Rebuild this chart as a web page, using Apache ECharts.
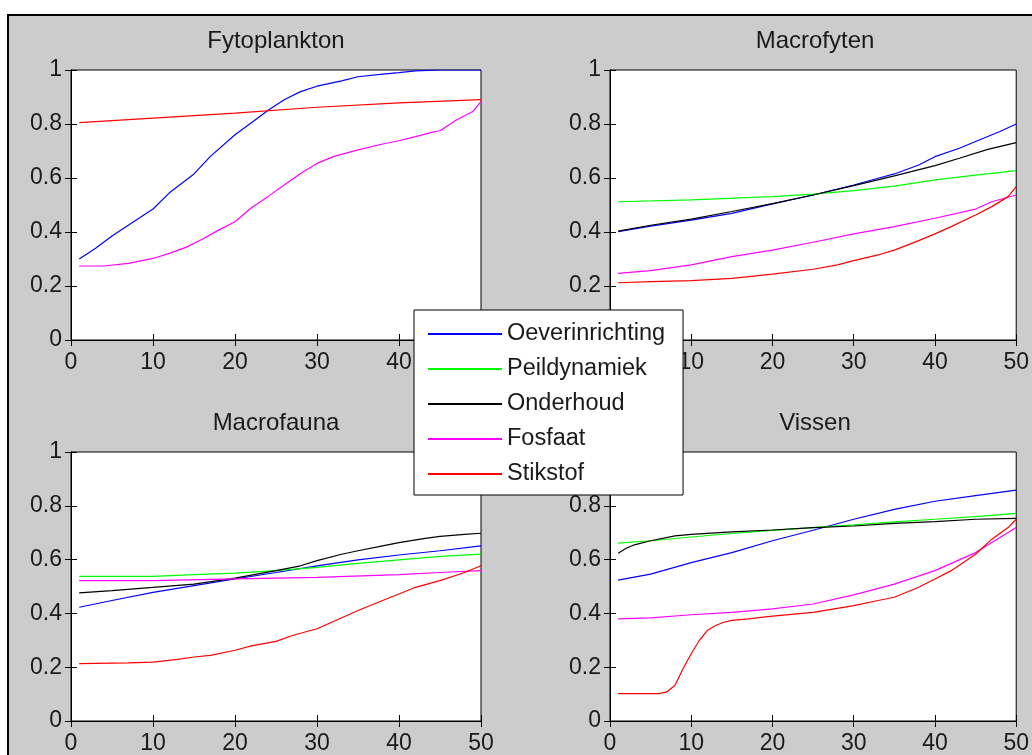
<!DOCTYPE html>
<html>
<head>
<meta charset="utf-8">
<script src="https://cdn.jsdelivr.net/npm/echarts@6/dist/echarts.min.js"></script>
<style>
  html, body { margin: 0; padding: 0; background: #fff; }
  #main { width: 1032px; height: 755px; }
</style>
</head>
<body>
<div id="main"></div>
<script>
// panel titles and legend names
const panelTitles = ['Fytoplankton', 'Macrofyten', 'Macrofauna', 'Vissen'];
const seriesNames = ['Oeverinrichting', 'Peildynamiek', 'Onderhoud', 'Fosfaat', 'Stikstof'];
const seriesColors = ['#0000ff', '#00ff00', '#000000', '#ff00ff', '#ff0000'];
const xTicks = [0, 10, 20, 30, 40, 50];
const yTicks = [0, 0.2, 0.4, 0.6, 0.8, 1];

// Fytoplankton ([x, y])
const fytoOever = [[1,0.30],[3,0.34],[5,0.385],[8,0.445],[10,0.485],[12,0.545],[15,0.615],[17,0.68],[20,0.76],[22,0.805],[24,0.85],[26,0.89],[28,0.92],[30,0.94],[33,0.96],[35,0.975],[38,0.985],[40,0.99],[42,0.997],[45,1],[50,1]];
const fytoFosfaat = [[1,0.274],[4,0.274],[7,0.284],[10,0.302],[12,0.321],[14,0.343],[16,0.373],[18,0.407],[20,0.438],[22,0.49],[24,0.531],[26,0.574],[28,0.617],[30,0.654],[32,0.679],[35,0.704],[38,0.726],[40,0.738],[42,0.753],[44,0.769],[45,0.775],[47,0.815],[49,0.846],[50,0.883]];
const fytoStikstof = [[1,0.805],[10,0.822],[20,0.840],[30,0.862],[40,0.878],[50,0.89]];

// Macrofyten
const mfytOever = [[1,0.401],[5,0.422],[10,0.444],[15,0.469],[20,0.504],[25,0.537],[30,0.574],[33,0.599],[35,0.615],[38,0.648],[40,0.679],[43,0.71],[45,0.735],[48,0.772],[50,0.8]];
const mfytPeil = [[1,0.512],[10,0.519],[20,0.531],[25,0.54],[30,0.553],[35,0.57],[40,0.593],[45,0.611],[50,0.627]];
const mfytOnderhoud = [[1,0.403],[5,0.425],[10,0.448],[15,0.476],[20,0.505],[25,0.537],[30,0.572],[35,0.608],[40,0.646],[43,0.673],[46.5,0.706],[50,0.731]];
const mfytFosfaat = [[1,0.247],[5,0.257],[10,0.278],[15,0.309],[20,0.333],[25,0.362],[30,0.393],[35,0.42],[40,0.451],[45,0.485],[47,0.512],[50,0.537]];
const mfytStikstof = [[1,0.212],[5,0.216],[10,0.22],[15,0.228],[20,0.244],[25,0.262],[28,0.278],[30,0.294],[33,0.315],[35,0.333],[38,0.368],[40,0.393],[42,0.42],[45,0.463],[47,0.494],[49,0.531],[50,0.568]];

// Macrofauna
const mfauOever = [[1,0.423],[5,0.448],[10,0.478],[15,0.503],[20,0.528],[25,0.552],[30,0.577],[35,0.599],[40,0.617],[45,0.633],[50,0.651]];
const mfauPeil = [[1,0.538],[10,0.538],[15,0.544],[20,0.55],[25,0.559],[30,0.571],[35,0.586],[40,0.599],[45,0.612],[50,0.62]];
const mfauOnderhoud = [[1,0.476],[5,0.485],[10,0.497],[15,0.509],[20,0.531],[25,0.559],[28,0.577],[30,0.596],[33,0.62],[35,0.633],[38,0.651],[40,0.663],[43,0.678],[45,0.686],[48,0.694],[50,0.698]];
const mfauFosfaat = [[1,0.522],[10,0.522],[20,0.528],[30,0.534],[40,0.544],[45,0.552],[50,0.559]];
const mfauStikstof = [[1,0.213],[7,0.216],[10,0.219],[13,0.229],[15,0.238],[17,0.244],[20,0.263],[22,0.279],[25,0.296],[27,0.318],[30,0.343],[32,0.37],[35,0.411],[38,0.448],[40,0.472],[42,0.497],[45,0.522],[48,0.552],[50,0.577]];

// Vissen
const vissOever = [[1,0.524],[5,0.546],[10,0.589],[15,0.626],[20,0.67],[25,0.709],[30,0.75],[35,0.787],[40,0.817],[45,0.838],[50,0.858]];
const vissPeil = [[1,0.661],[5,0.67],[10,0.684],[15,0.697],[20,0.709],[25,0.719],[30,0.729],[35,0.74],[40,0.75],[45,0.76],[50,0.772]];
const vissOnderhoud = [[1,0.624],[2,0.642],[3,0.655],[5,0.67],[8,0.688],[10,0.694],[15,0.703],[20,0.71],[25,0.719],[30,0.725],[35,0.735],[40,0.741],[45,0.75],[50,0.753]];
const vissFosfaat = [[1,0.38],[5,0.383],[10,0.395],[15,0.404],[20,0.417],[25,0.435],[30,0.469],[35,0.509],[40,0.559],[45,0.626],[50,0.719]];
const vissStikstof = [[1,0.102],[6,0.102],[7,0.108],[8,0.133],[9,0.195],[10,0.25],[11,0.3],[12,0.337],[13,0.355],[14,0.367],[15,0.374],[17,0.38],[20,0.39],[25,0.404],[30,0.429],[33,0.448],[35,0.46],[38,0.497],[40,0.528],[42,0.559],[45,0.62],[47,0.676],[49,0.719],[50,0.75]];

// per panel: one entry per legend name (null = not drawn)
const panelData = [
  [fytoOever, null, null, fytoFosfaat, fytoStikstof],
  [mfytOever, mfytPeil, mfytOnderhoud, mfytFosfaat, mfytStikstof],
  [mfauOever, mfauPeil, mfauOnderhoud, mfauFosfaat, mfauStikstof],
  [vissOever, vissPeil, vissOnderhoud, vissFosfaat, vissStikstof]
];

const FONT = '"Liberation Sans", Arial, sans-serif';
const TXT = '#1a1a1a';
const gridBoxes = [
  {left: 71, top: 70, width: 410, height: 270},
  {left: 610, top: 70, width: 410, height: 270},
  {left: 71, top: 452, width: 410, height: 271},
  {left: 610, top: 452, width: 410, height: 271}
];

let chart = echarts.init(document.getElementById('main'));

let grids = [], xAxes = [], yAxes = [], series = [], titles = [];
gridBoxes.forEach(function (b, i) {
  grids.push(Object.assign({show: true, backgroundColor: '#fff', borderColor: '#000', borderWidth: 1}, b));
  titles.push({
    text: panelTitles[i], left: b.left + b.width / 2, top: b.top - 41, textAlign: 'center', padding: 0,
    textStyle: {fontFamily: FONT, fontSize: 24, fontWeight: 'normal', color: TXT}
  });
  // bottom / left axes with labels
  xAxes.push({
    gridIndex: i, type: 'value', min: xTicks[0], max: xTicks[xTicks.length - 1], interval: 10,
    axisLine: {lineStyle: {color: '#000'}}, axisTick: {inside: true, length: 6, lineStyle: {color: '#000'}},
    splitLine: {show: false},
    axisLabel: {fontFamily: FONT, fontSize: 23, color: TXT, margin: 11}
  });
  yAxes.push({
    gridIndex: i, type: 'value', min: yTicks[0], max: yTicks[yTicks.length - 1], interval: 0.2,
    axisLine: {show: true, lineStyle: {color: '#000'}}, axisTick: {show: true, inside: true, length: 6, lineStyle: {color: '#000'}},
    splitLine: {show: false},
    axisLabel: {fontFamily: FONT, fontSize: 23, color: TXT, margin: 9}
  });
  // top / right axes: ticks only (box)
  xAxes.push({
    gridIndex: i, type: 'value', position: 'top', min: 0, max: 50, interval: 10,
    axisLine: {lineStyle: {color: '#000'}}, axisTick: {inside: true, length: 6, lineStyle: {color: '#000'}},
    splitLine: {show: false}, axisLabel: {show: false}
  });
  yAxes.push({
    gridIndex: i, type: 'value', position: 'right', min: 0, max: 1, interval: 0.2,
    axisLine: {show: true, lineStyle: {color: '#000'}}, axisTick: {show: true, inside: true, length: 6, lineStyle: {color: '#000'}},
    splitLine: {show: false}, axisLabel: {show: false}
  });
  panelData[i].forEach(function (d, k) {
    if (!d) return;
    series.push({
      name: seriesNames[k], type: 'line', xAxisIndex: i * 2, yAxisIndex: i * 2,
      data: d, showSymbol: false, symbol: 'none', animation: false,
      lineStyle: {color: seriesColors[k], width: 1.2}, itemStyle: {color: seriesColors[k]}
    });
  });
});

let option = {
  backgroundColor: '#fff',
  animation: false,
  graphic: [{
    type: 'rect', z: -100, silent: true,
    shape: {x: 8, y: 15, width: 1040, height: 760},
    style: {fill: '#cccccc', stroke: '#000', lineWidth: 2}
  }],
  title: titles,
  grid: grids,
  xAxis: xAxes,
  yAxis: yAxes,
  legend: {
    data: seriesNames, orient: 'vertical', left: 414, top: 310, z: 100,
    backgroundColor: '#fff', borderColor: '#000', borderWidth: 1,
    padding: [11, 18, 8, 14], itemGap: 9, itemWidth: 74, itemHeight: 2, itemTextGap: 9,
    icon: 'rect', selectedMode: false,
    textStyle: {fontFamily: FONT, fontSize: 23.5, color: TXT, lineHeight: 26}
  },
  series: series
};

chart.setOption(option);
</script>
</body>
</html>
